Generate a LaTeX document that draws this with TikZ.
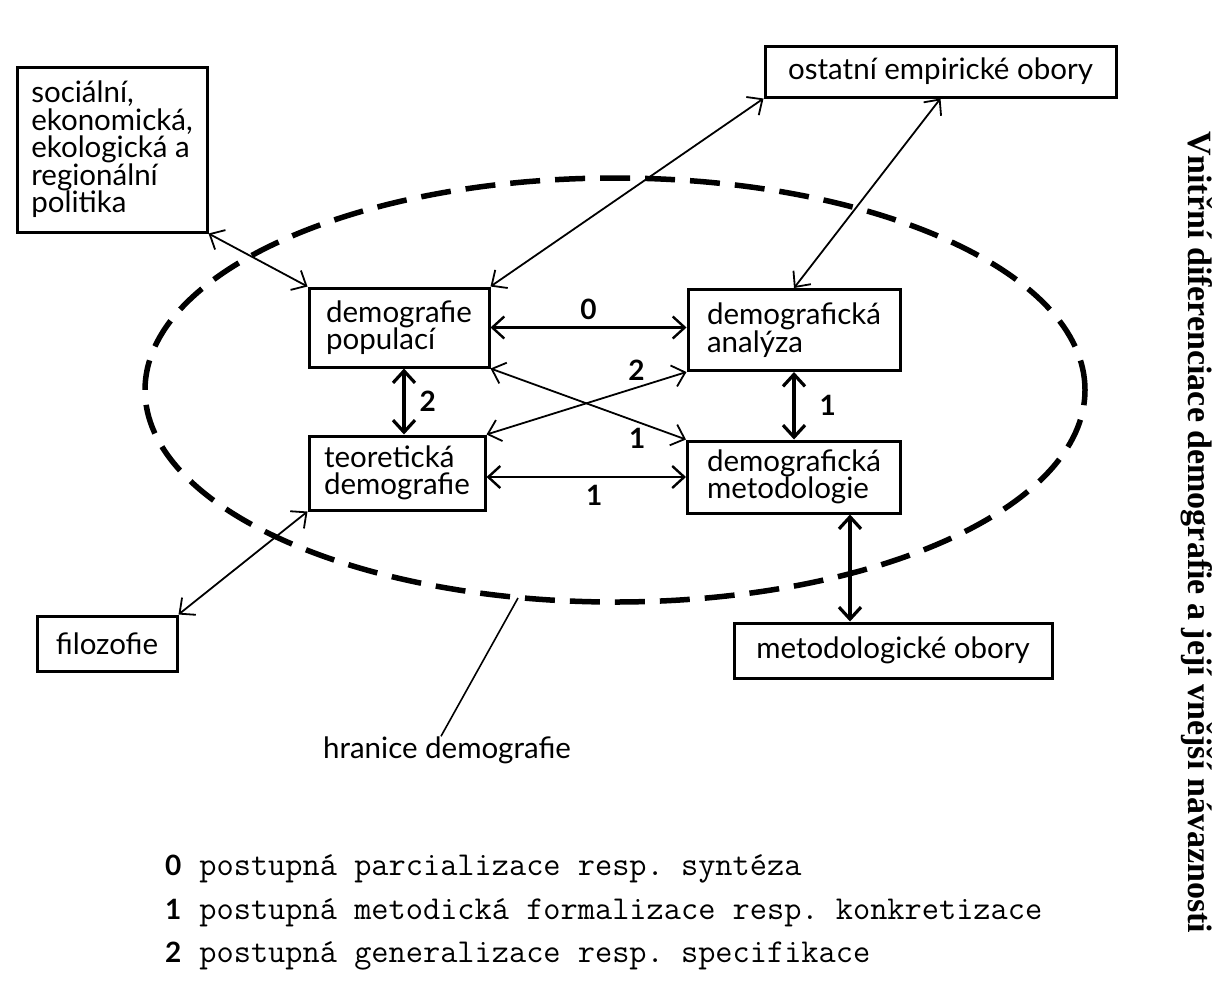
\documentclass[tikz,border=0pt]{standalone}
\usepackage{fontspec}
\usetikzlibrary{arrows.meta}
\newfontfamily\latofont{Lato}
\newfontfamily\titleserif{Liberation Serif}

\begin{document}
\begin{tikzpicture}[x=1pt, y=-1pt,
    box/.style={draw, line width=3pt, inner sep=0pt, align=left,
      font=\latofont\fontsize{29.5}{27.5}\selectfont},
    link/.style={<->, line width=1.8pt},
    flat link/.style={<->, line width=2.4pt},
    thick link/.style={<->, line width=3.2pt},
    num/.style={font=\latofont\bfseries\fontsize{28}{28}\selectfont, inner sep=2pt},
    boundary/.style={line width=5.5pt, dash pattern=on 30pt off 15pt},
    legend/.style={anchor=west, inner sep=0pt, font=\fontsize{33.4}{34}\selectfont},
    >={Straight Barb[length=12pt, width=22pt]}]
  \useasboundingbox (0,0) rectangle (1230,999);

  % limits of the discipline
  \draw[boundary] (615,390) ellipse [x radius=470pt, y radius=212pt];
  \coordinate (bnd) at (518,598);

  \node[box, minimum width=190pt, minimum height=165pt] (soc) at (112,149.5)
    {sociální,\\ekonomická,\\ekologická a\\regionální\\politika};
  \node[box, minimum width=351pt, minimum height=51pt] (ost) at (940.5,71.5) {ostatní empirické obory};
  \node[box, minimum width=180pt, minimum height=79pt] (dp) at (399,327.5) {demografie\\populací};
  \node[box, minimum width=212pt, minimum height=81pt] (da) at (794,330) {demografická\\analýza};
  \node[box, minimum width=176pt, minimum height=74pt] (td) at (397,473) {teoretická\\demografie};
  \node[box, minimum width=213pt, minimum height=72pt] (dm) at (794,477) {demografická\\metodologie};
  \node[box, minimum width=140pt, minimum height=55pt] (fil) at (107,643.5) {filozofie};
  \node[box, minimum width=318pt, minimum height=55pt] (met) at (893,650.5) {metodologické obory};
  \node[font=\latofont\fontsize{29.5}{27.5}\selectfont, inner sep=0pt] (hran) at (447,750) {hranice demografie};

  % inner links
  \draw[flat link] (dp.east) -- (dp.east -| da.west) node[num, midway, above=5pt] {0};
  \draw[flat link] (td.east |- dm.west) -- (dm.west) node[num, pos=0.54, below=5pt] {1};
  \draw[thick link] ([xshift=5pt]dp.south) -- ([xshift=5pt]dp.south |- td.north)
    node[num, midway, right=12pt] {2};
  \draw[thick link] (da.south) -- (da.south |- dm.north) node[num, midway, right=22pt] {1};
  \draw[link] (dp.south east) -- (dm.north west) node[num, pos=0.75, below=4pt] {1};
  \draw[link] (td.north east) -- (da.south west) node[num, pos=0.75, above=4pt] {2};

  % outer links
  \draw[link] (soc.south east) -- (dp.north west);
  \draw[link] (dp.north east) -- (ost.south west);
  \draw[link] (ost.south) -- (da.north);
  \draw[link] (fil.north east) -- (td.south west);
  \draw[thick link] ([xshift=56pt]dm.south) -- ([xshift=56pt]dm.south |- met.north);
  \draw[line width=1.6pt] (bnd) -- ([xshift=-6pt]hran.north);

  % legend
  \node[legend] (leg0) at (165,869) {{\latofont\bfseries\fontsize{28}{28}\selectfont 0}\hspace{18pt}{\ttfamily\frenchspacing postupná parcializace resp. syntéza}};
  \node[legend] (leg1) at (165,913) {{\latofont\bfseries\fontsize{28}{28}\selectfont 1}\hspace{18pt}{\ttfamily\frenchspacing postupná metodická formalizace resp. konkretizace}};
  \node[legend] (leg2) at (165,956) {{\latofont\bfseries\fontsize{28}{28}\selectfont 2}\hspace{18pt}{\ttfamily\frenchspacing postupná generalizace resp. specifikace}};

  \node[rotate=-90, font=\titleserif\bfseries\fontsize{34}{34}\selectfont] (title) at (1197,532)
    {Vnitřní diferenciace demografie a její vnější návaznosti};
\end{tikzpicture}
\end{document}
